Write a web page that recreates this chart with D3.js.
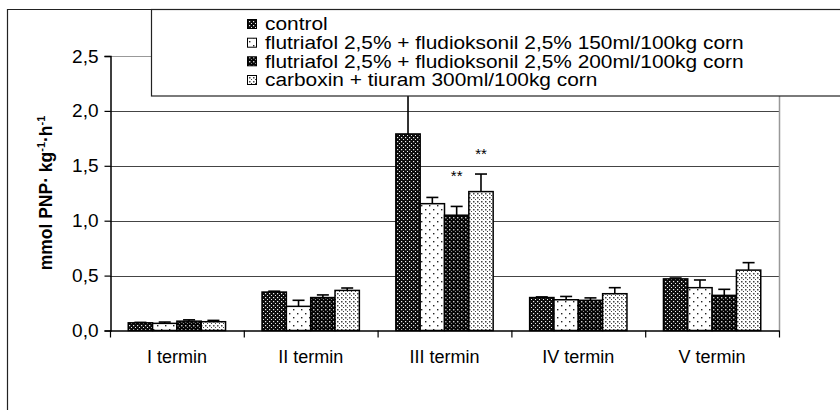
<!DOCTYPE html>
<html>
<head>
<meta charset="utf-8">
<script src="https://cdn.jsdelivr.net/npm/d3@7"></script>
<style>
  html, body { margin: 0; padding: 0; background: #fff; }
  svg { display: block; font-family: "Liberation Sans", Arial, sans-serif; }
</style>
</head>
<body>
<svg id="chart" width="840" height="410"></svg>
<script>
// Soil enzyme activity per sampling date and seed treatment
const categories = ["I termin", "II termin", "III termin", "IV termin", "V termin"];
const seriesNames = [
  "control",
  "flutriafol 2,5% + fludioksonil 2,5% 150ml/100kg corn",
  "flutriafol 2,5% + fludioksonil 2,5% 200ml/100kg corn",
  "carboxin + tiuram 300ml/100kg corn"
];
const control = [0.07, 0.35, 1.79, 0.30, 0.47];
const flut150 = [0.065, 0.22, 1.155, 0.28, 0.39];
const flut200 = [0.085, 0.30, 1.05, 0.275, 0.32];
const carboxin = [0.08, 0.365, 1.265, 0.335, 0.55];
const controlErr = [0.004, 0.008, 0.5, 0.006, 0.008];
const flut150Err = [0.012, 0.055, 0.057, 0.03, 0.07];
const flut200Err = [0.012, 0.024, 0.08, 0.022, 0.055];
const carboxinErr = [0.012, 0.022, 0.16, 0.055, 0.068];
const yTicks = [0, 0.5, 1.0, 1.5, 2.0, 2.5];
// significance marks: category, series index, label
const sigMarks = [
  { cat: "III termin", s: 2, text: "**", lift: 31 },
  { cat: "III termin", s: 3, text: "**", lift: 21 }
];

const values = [control, flut150, flut200, carboxin];
const errors = [controlErr, flut150Err, flut200Err, carboxinErr];

const svg = d3.select("#chart");
const plot = { left: 110, right: 779, top: 56, bottom: 330.5 };

// fill patterns for the four treatments
const defs = svg.append("defs");
function pattern(id, size, bg, dots) {
  const p = defs.append("pattern").attr("id", id)
    .attr("patternUnits", "userSpaceOnUse").attr("width", size).attr("height", size);
  p.append("rect").attr("width", size).attr("height", size).attr("fill", bg);
  dots.forEach(d => p.append("rect").attr("x", d[0]).attr("y", d[1])
    .attr("width", d[2]).attr("height", d[2]).attr("fill", d[3]));
}
pattern("p0", 4, "#0d0d0d", [[1, 1, 1.2, "#eee"], [3, 3, 1.2, "#eee"]]);
pattern("p1", 8, "#fff", [[1, 1, 1.4, "#222"], [5, 5, 1.4, "#222"]]);
pattern("p2", 4, "#050505", [[1, 1, 1.4, "#ccc"], [3, 3, 1.0, "#888"]]);
pattern("p3", 4, "#fff", [[1, 1, 1.5, "#444"], [3, 3, 1.5, "#444"]]);
const fills = ["url(#p0)", "url(#p1)", "url(#p2)", "url(#p3)"];

const x = d3.scaleBand().domain(categories).range([plot.left, plot.right]).paddingInner(0).paddingOuter(0);
const y = d3.scaleLinear().domain([0, 2.5]).range([plot.bottom, plot.top]);
const barW = x.bandwidth() / 5.5;
const groupOffset = barW * 0.75;
const bx = (c, s) => x(c) + groupOffset + s * barW;

// outer frame
svg.append("path").attr("d", "M7.5,410 L7.5,9.5 L840,9.5")
  .attr("fill", "none").attr("stroke", "#222").attr("stroke-width", 1.2);

// gridlines
const grid = svg.append("g");
grid.selectAll("line").data(yTicks.filter(t => t > 0)).join("line")
  .attr("x1", plot.left).attr("x2", plot.right)
  .attr("y1", d => Math.round(y(d)) + 0.5).attr("y2", d => Math.round(y(d)) + 0.5)
  .attr("stroke", d => d === 2.5 ? "#999" : "#444").attr("stroke-width", 1.2);
// right plot edge
svg.append("line").attr("x1", plot.right + 0.5).attr("x2", plot.right + 0.5)
  .attr("y1", plot.top).attr("y2", plot.bottom)
  .attr("stroke", "#999").attr("stroke-width", 1.5);

// bars
const bars = svg.append("g");
values.forEach((vals, s) => {
  bars.selectAll(null).data(vals).join("rect")
    .attr("x", (d, i) => bx(categories[i], s))
    .attr("y", d => y(d))
    .attr("width", barW)
    .attr("height", d => y(0) - y(d))
    .attr("fill", fills[s])
    .attr("stroke", "#000").attr("stroke-width", 1.5);
});

// error bars
const errG = svg.append("g").attr("stroke", "#000").attr("stroke-width", 1.6);
values.forEach((vals, s) => {
  vals.forEach((v, i) => {
    const cx = bx(categories[i], s) + barW / 2;
    const top = y(v + errors[s][i]);
    errG.append("line").attr("x1", cx).attr("x2", cx).attr("y1", y(v)).attr("y2", top);
    errG.append("line").attr("x1", cx - 6).attr("x2", cx + 6).attr("y1", top).attr("y2", top);
  });
});

// significance marks
sigMarks.forEach(m => {
  const i = categories.indexOf(m.cat);
  const cx = bx(m.cat, m.s) + barW / 2;
  const top = y(values[m.s][i] + errors[m.s][i]);
  svg.append("text").attr("x", cx).attr("y", top - m.lift)
    .attr("text-anchor", "middle").attr("dominant-baseline", "central")
    .attr("font-size", 15).attr("fill", "#000").text(m.text);
});

// y axis
const yAxis = svg.append("g").attr("transform", `translate(${plot.left + 0.5},0)`)
  .call(d3.axisLeft(y).tickValues(yTicks).tickSize(6).tickPadding(6)
    .tickFormat(d => d3.format(".1f")(d).replace(".", ",")));
yAxis.select(".domain").attr("stroke", "#000").attr("stroke-width", 1.5);
yAxis.selectAll(".tick line").attr("stroke", "#000").attr("stroke-width", 1.2);
yAxis.selectAll(".tick text").attr("font-size", 19).attr("fill", "#000")
  .attr("font-family", "Liberation Sans, Arial, sans-serif");

// x axis
const xAxis = svg.append("g").attr("transform", `translate(0,${plot.bottom})`)
  .call(d3.axisBottom(x).tickSize(0).tickPadding(20));
xAxis.select(".domain").attr("stroke", "#000").attr("stroke-width", 1.5);
xAxis.selectAll(".tick text").attr("font-size", 18).attr("fill", "#000")
  .attr("font-family", "Liberation Sans, Arial, sans-serif");
const bounds = categories.map(c => x(c)).concat([plot.right]);
svg.append("g").selectAll("line").data(bounds).join("line")
  .attr("x1", d => d + 0.5).attr("x2", d => d + 0.5)
  .attr("y1", plot.bottom).attr("y2", plot.bottom + 7)
  .attr("stroke", "#000").attr("stroke-width", 1.2);

// y axis title
const title = svg.append("text")
  .attr("transform", "translate(52,193) rotate(-90)")
  .attr("text-anchor", "middle").attr("font-size", 17.5).attr("font-weight", "bold")
  .attr("fill", "#000");
title.append("tspan").text("mmol PNP· kg");
title.append("tspan").attr("dy", -7).attr("font-size", 11).text("-1");
title.append("tspan").attr("dy", 7).text("·h");
title.append("tspan").attr("dy", -7).attr("font-size", 11).text("-1");

// legend
const lg = svg.append("g");
lg.append("rect").attr("x", 151.5).attr("y", 9.5).attr("width", 700).attr("height", 86.5)
  .attr("fill", "#fff").attr("stroke", "#222").attr("stroke-width", 1.2);
const rowY = [24, 42.7, 61.3, 80];
seriesNames.forEach((name, s) => {
  lg.append("rect").attr("x", 247.5).attr("y", rowY[s] - 4.5).attr("width", 9).attr("height", 9)
    .attr("fill", fills[s]).attr("stroke", "#000").attr("stroke-width", 1);
  lg.append("text").attr("transform", `translate(265,${rowY[s]}) scale(1.16,1)`)
    .attr("dominant-baseline", "central")
    .attr("font-size", 18).attr("fill", "#000").text(name);
});
</script>
</body>
</html>
